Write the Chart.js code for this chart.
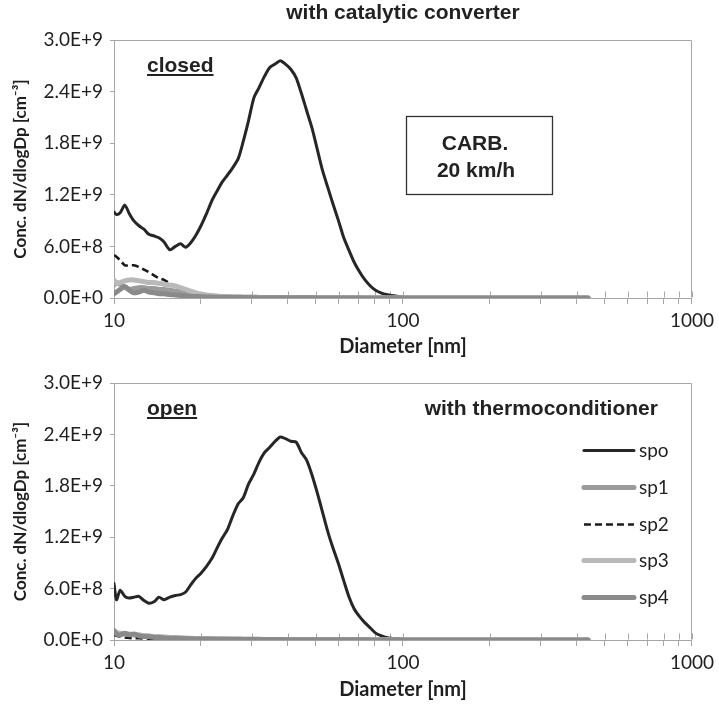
<!DOCTYPE html>
<html>
<head>
<meta charset="utf-8">
<script src="https://cdn.jsdelivr.net/npm/chart.js@4.4.0/dist/chart.umd.min.js"></script>
<style>
  html, body { margin: 0; padding: 0; background: #ffffff; }
  #wrap { position: relative; width: 719px; height: 705px; }
  #c1 { position: absolute; left: 0; top: 0; }
  #c2 { position: absolute; left: 0; top: 362px; }
</style>
</head>
<body>
<div id="wrap">
  <canvas id="c1" width="719" height="362"></canvas>
  <canvas id="c2" width="719" height="343"></canvas>
</div>
<script>
// ---------- DATA (concentrations in units of 1E+9 cm^-3) ----------
const diameterNm = [
  10.0, 10.2, 10.5, 10.9, 11.3, 11.7, 12.2, 12.7, 13.2, 13.8,
  14.3, 14.9, 15.6, 16.3, 17.0, 17.7, 18.4, 19.2, 20.0, 20.9,
  21.8, 22.7, 23.7, 24.7, 25.7, 26.9, 28.0, 29.2, 30.5, 31.8,
  33.2, 34.6, 36.1, 37.6, 39.2, 40.9, 42.7, 44.5, 46.4, 48.4,
  50.5, 52.7, 55.0, 57.3, 59.8, 62.4, 65.1, 67.9, 70.9, 73.9,
  77.1, 80.4, 83.9, 87.5, 91.2, 95.1, 99.2, 110, 130, 160,
  200, 250, 300, 360, 437
];

const seriesLabels = ['spo', 'sp1', 'sp2', 'sp3', 'sp4'];

// closed (with catalytic converter)
const closedSpo = [
  1.00, 0.97, 0.99, 1.08, 0.98, 0.90, 0.84, 0.80, 0.74, 0.72,
  0.70, 0.65, 0.56, 0.60, 0.63, 0.59, 0.64, 0.73, 0.84, 0.98,
  1.13, 1.24, 1.35, 1.43, 1.51, 1.62, 1.82, 2.06, 2.33, 2.45,
  2.58, 2.68, 2.72, 2.76, 2.72, 2.66, 2.56, 2.38, 2.18, 1.98,
  1.73, 1.48, 1.28, 1.09, 0.90, 0.70, 0.55, 0.41, 0.30, 0.21,
  0.14, 0.09, 0.06, 0.04, 0.03, 0.02, 0.01, 0.006, 0.004, 0.003,
  0.002, 0.001, 0.001, 0.0005, 0.0003
];
const closedSp1 = [
  0.15, 0.18, 0.16, 0.13, 0.10, 0.11, 0.12, 0.12, 0.11, 0.11,
  0.10, 0.10, 0.09, 0.08, 0.07, 0.06, 0.05, 0.04, 0.035, 0.03,
  0.025, 0.02, 0.018, 0.015, 0.013, 0.011, 0.01, 0.009, 0.008, 0.007,
  0.006, 0.006, 0.005, 0.005, 0.005, 0.004, 0.004, 0.004, 0.003, 0.003,
  0.003, 0.003, 0.002, 0.002, 0.002, 0.002, 0.002, 0.002, 0.002, 0.001,
  0.001, 0.001, 0.001, 0.001, 0.001, 0.001, 0.001, 0.001, 0.001, 0.001,
  0.001, 0.001, 0.001, 0.001, 0.001
];
const closedSp2 = [
  0.50, 0.48, 0.44, 0.38, 0.38, 0.38, 0.36, 0.33, 0.30, 0.26,
  0.23, 0.21, 0.17, 0.14, 0.12, 0.09, 0.08, 0.06, 0.05, 0.04,
  0.03, 0.025, 0.02, 0.018, 0.015, 0.012, 0.01, 0.009, 0.008, 0.007,
  0.006, 0.005, 0.005, 0.004, 0.004, 0.004, 0.003, 0.003, 0.003, 0.003,
  0.002, 0.002, 0.002, 0.002, 0.002, 0.002, 0.002, 0.002, 0.002, 0.002,
  0.001, 0.001, 0.001, 0.001, 0.001, 0.001, 0.001, 0.001, 0.001, 0.001,
  0.001, 0.001, 0.001, 0.001, 0.001
];
const closedSp3 = [
  0.21, 0.17, 0.18, 0.20, 0.21, 0.21, 0.20, 0.19, 0.18, 0.18,
  0.17, 0.16, 0.15, 0.14, 0.12, 0.10, 0.08, 0.06, 0.045, 0.035,
  0.025, 0.02, 0.018, 0.015, 0.013, 0.011, 0.01, 0.009, 0.008, 0.007,
  0.006, 0.006, 0.005, 0.005, 0.005, 0.004, 0.004, 0.004, 0.003, 0.003,
  0.003, 0.003, 0.002, 0.002, 0.002, 0.002, 0.002, 0.002, 0.002, 0.001,
  0.001, 0.001, 0.001, 0.001, 0.001, 0.001, 0.001, 0.001, 0.001, 0.001,
  0.001, 0.001, 0.001, 0.001, 0.001
];
const closedSp4 = [
  0.05, 0.07, 0.10, 0.13, 0.09, 0.06, 0.07, 0.09, 0.07, 0.06,
  0.05, 0.05, 0.04, 0.035, 0.03, 0.025, 0.02, 0.018, 0.015, 0.012,
  0.01, 0.009, 0.008, 0.007, 0.006, 0.006, 0.005, 0.005, 0.004, 0.004,
  0.004, 0.003, 0.003, 0.003, 0.003, 0.002, 0.002, 0.002, 0.002, 0.002,
  0.001, 0.001, 0.001, 0.001, 0.001, 0.001, 0.001, 0.001, 0.001, 0.001,
  0.001, 0.001, 0.001, 0.001, 0.001, 0.001, 0.001, 0.001, 0.001, 0.001,
  0.001, 0.001, 0.001, 0.001, 0.001
];

// open (with thermoconditioner)
const openSpo = [
  0.66, 0.47, 0.58, 0.51, 0.49, 0.50, 0.51, 0.46, 0.43, 0.45,
  0.50, 0.47, 0.50, 0.52, 0.53, 0.56, 0.64, 0.72, 0.78, 0.86,
  0.95, 1.07, 1.19, 1.29, 1.44, 1.59, 1.66, 1.82, 1.94, 2.08,
  2.19, 2.25, 2.32, 2.37, 2.35, 2.32, 2.31, 2.19, 2.10, 1.93,
  1.72, 1.49, 1.26, 1.07, 0.89, 0.69, 0.50, 0.36, 0.27, 0.20,
  0.14, 0.08, 0.05, 0.03, 0.02, 0.015, 0.01, 0.006, 0.004, 0.003,
  0.002, 0.001, 0.001, 0.0005, 0.0003
];
const openSp1 = [
  0.09, 0.08, 0.07, 0.07, 0.06, 0.06, 0.05, 0.05, 0.04, 0.035,
  0.03, 0.03, 0.025, 0.025, 0.02, 0.02, 0.018, 0.016, 0.015, 0.014,
  0.013, 0.012, 0.011, 0.01, 0.01, 0.009, 0.009, 0.008, 0.008, 0.007,
  0.007, 0.006, 0.006, 0.006, 0.005, 0.005, 0.005, 0.005, 0.004, 0.004,
  0.004, 0.004, 0.003, 0.003, 0.003, 0.003, 0.003, 0.002, 0.002, 0.002,
  0.002, 0.002, 0.002, 0.002, 0.001, 0.001, 0.001, 0.001, 0.001, 0.001,
  0.001, 0.001, 0.001, 0.001, 0.001
];
const openSp2 = [
  0.06, 0.05, 0.04, 0.03, 0.025, 0.02, 0.02, 0.018, 0.016, 0.015,
  0.014, 0.013, 0.012, 0.011, 0.01, 0.01, 0.009, 0.009, 0.008, 0.008,
  0.007, 0.007, 0.006, 0.006, 0.006, 0.005, 0.005, 0.005, 0.005, 0.004,
  0.004, 0.004, 0.004, 0.003, 0.003, 0.003, 0.003, 0.003, 0.002, 0.002,
  0.002, 0.002, 0.002, 0.002, 0.002, 0.002, 0.001, 0.001, 0.001, 0.001,
  0.001, 0.001, 0.001, 0.001, 0.001, 0.001, 0.001, 0.001, 0.001, 0.001,
  0.001, 0.001, 0.001, 0.001, 0.001
];
const openSp3 = [
  0.10, 0.09, 0.08, 0.07, 0.07, 0.06, 0.06, 0.05, 0.05, 0.04,
  0.04, 0.035, 0.03, 0.03, 0.025, 0.02, 0.02, 0.018, 0.016, 0.015,
  0.014, 0.013, 0.012, 0.011, 0.01, 0.01, 0.009, 0.009, 0.008, 0.008,
  0.007, 0.007, 0.006, 0.006, 0.006, 0.005, 0.005, 0.005, 0.005, 0.004,
  0.004, 0.004, 0.004, 0.003, 0.003, 0.003, 0.003, 0.003, 0.002, 0.002,
  0.002, 0.002, 0.002, 0.002, 0.002, 0.001, 0.001, 0.001, 0.001, 0.001,
  0.001, 0.001, 0.001, 0.001, 0.001
];
const openSp4 = [
  0.11, 0.07, 0.06, 0.08, 0.06, 0.07, 0.05, 0.04, 0.04, 0.03,
  0.03, 0.025, 0.02, 0.02, 0.018, 0.016, 0.015, 0.013, 0.012, 0.011,
  0.01, 0.01, 0.009, 0.009, 0.008, 0.008, 0.007, 0.007, 0.006, 0.006,
  0.006, 0.005, 0.005, 0.005, 0.004, 0.004, 0.004, 0.004, 0.003, 0.003,
  0.003, 0.003, 0.003, 0.002, 0.002, 0.002, 0.002, 0.002, 0.002, 0.002,
  0.001, 0.001, 0.001, 0.001, 0.001, 0.001, 0.001, 0.001, 0.001, 0.001,
  0.001, 0.001, 0.001, 0.001, 0.001
];

// ticks
const xTickValues = [10, 20, 30, 40, 50, 60, 70, 80, 90, 100, 200, 300, 400, 500, 600, 700, 800, 900, 1000];
const xTickLabels = ['10', '', '', '', '', '', '', '', '', '100', '', '', '', '', '', '', '', '', '1000'];
const yTickValues = [0, 0.6, 1.2, 1.8, 2.4, 3.0];
const yTickLabels = ['0.0E+0', '6.0E+8', '1.2E+9', '1.8E+9', '2.4E+9', '3.0E+9'];

// ---------- STYLES ----------
const seriesStyles = [
  { color: '#262626', width: 3,   dash: [],     order: 5 },
  { color: '#9b9b9b', width: 5,   dash: [],     order: 4 },
  { color: '#1a1a1a', width: 2.6, dash: [7, 4], order: 3 },
  { color: '#b9b9b9', width: 5,   dash: [],     order: 2 },
  { color: '#8a8a8a', width: 5,   dash: [],     order: 1 }
];
const AXIS_COLOR = '#a6a6a6';
const TEXT_COLOR = '#1f1f1f';
const TICK_FONT = { family: 'Lato', size: 19 };
const X_TITLE_FONT = { family: 'Lato', size: 20, weight: 'bold' };
const Y_TITLE_FONT = { family: 'Lato', size: 17, weight: 'bold' };
const ANNOT_FONT = 'bold 21px "Liberation Sans", Arial, sans-serif';

function makeDatasets(seriesArrays) {
  return seriesArrays.map((vals, i) => ({
    label: seriesLabels[i],
    data: diameterNm.map((d, k) => ({ x: d, y: vals[k] })),
    borderColor: seriesStyles[i].color,
    backgroundColor: seriesStyles[i].color,
    borderWidth: seriesStyles[i].width,
    borderDash: seriesStyles[i].dash,
    order: seriesStyles[i].order,
    pointRadius: 0,
    tension: 0.25,
    borderJoinStyle: 'round',
    borderCapStyle: seriesStyles[i].dash.length ? 'butt' : 'round',
    fill: false
  }));
}

const framePlugin = {
  id: 'frame',
  beforeDatasetsDraw(chart) {
    const { ctx, chartArea: a, scales: { x } } = chart;
    ctx.save();
    ctx.strokeStyle = AXIS_COLOR;
    ctx.lineWidth = 1;
    const L = Math.round(a.left) + 0.5, R = Math.round(a.right) - 0.5;
    const T = Math.round(a.top) + 0.5, B = Math.round(a.bottom) - 0.5;
    ctx.beginPath();
    ctx.moveTo(L, B); ctx.lineTo(L, T); ctx.lineTo(R, T); ctx.lineTo(R, B);
    // inner half of the x tick marks
    xTickValues.forEach(v => {
      const px = Math.round(x.getPixelForValue(v)) + 0.5;
      ctx.moveTo(px, B); ctx.lineTo(px, B - 6);
    });
    ctx.stroke();
    ctx.restore();
  }
};

function makeOptions(cfg) {
  return {
    responsive: false,
    animation: false,
    layout: { padding: { top: cfg.padTop, right: 22, bottom: 0, left: 0 } },
    plugins: {
      legend: { display: false },
      tooltip: { enabled: false },
      title: cfg.title ? {
        display: true, text: cfg.title, color: '#222222', fullSize: false,
        font: { family: 'Liberation Sans', size: 21, weight: 'bold' },
        padding: { top: 1, bottom: 13.8 }
      } : { display: false }
    },
    scales: {
      x: {
        type: 'logarithmic', min: 10, max: 1000,
        afterBuildTicks: s => { s.ticks = xTickValues.map(v => ({ value: v })); },
        afterFit: s => { s.height = cfg.xAxisHeight; },
        ticks: { autoSkip: false, maxRotation: 0, minRotation: 0, padding: 5, color: TEXT_COLOR, font: TICK_FONT,
                 callback: (v, i) => xTickLabels[i] },
        grid: { display: true, drawOnChartArea: false, drawTicks: true, tickLength: 6, color: AXIS_COLOR, lineWidth: 1 },
        border: { display: true, color: AXIS_COLOR, width: 1 },
        title: { display: true, text: 'Diameter [nm]', color: TEXT_COLOR, font: X_TITLE_FONT, padding: { top: 0, bottom: 3 } }
      },
      y: {
        min: 0, max: 3,
        afterBuildTicks: s => { s.ticks = yTickValues.map(v => ({ value: v })); },
        afterFit: s => { s.width = 114; },
        ticks: { padding: 7, color: TEXT_COLOR, font: TICK_FONT, callback: (v, i) => yTickLabels[i] },
        grid: { display: true, drawOnChartArea: false, drawTicks: true, tickLength: 4, color: AXIS_COLOR, lineWidth: 1 },
        border: { display: true, color: AXIS_COLOR, width: 1 },
        title: { display: true, text: 'Conc. dN/dlogDp [cm\u207B\u00B3]', color: TEXT_COLOR, font: Y_TITLE_FONT, padding: { top: 10, bottom: 0 } }
      }
    }
  };
}

function underlinedText(ctx, text, x, y) {
  ctx.fillText(text, x, y);
  const w = ctx.measureText(text).width;
  ctx.fillRect(x, y + 2, w, 2);
}

const closedAnnot = {
  id: 'closedAnnot',
  afterDraw(chart) {
    const { ctx, chartArea: a } = chart;
    ctx.save();
    ctx.fillStyle = '#222222';
    ctx.font = ANNOT_FONT;
    ctx.textAlign = 'left'; ctx.textBaseline = 'alphabetic';
    underlinedText(ctx, 'closed', a.left + 33, a.top + 32);
    // CARB box
    ctx.strokeStyle = '#333333'; ctx.lineWidth = 1.3;
    ctx.strokeRect(a.left + 292.5, a.top + 76.5, 146, 78);
    ctx.textAlign = 'center'; ctx.textBaseline = 'middle';
    ctx.fillText('CARB.', a.left + 361, a.top + 104);
    ctx.fillText('20 km/h', a.left + 362, a.top + 131);
    ctx.restore();
  }
};

const openAnnot = {
  id: 'openAnnot',
  afterDraw(chart) {
    const { ctx, chartArea: a } = chart;
    ctx.save();
    ctx.fillStyle = '#222222';
    ctx.font = ANNOT_FONT;
    ctx.textAlign = 'left'; ctx.textBaseline = 'alphabetic';
    underlinedText(ctx, 'open', a.left + 33, a.top + 32);
    ctx.textAlign = 'right';
    ctx.fillText('with thermoconditioner', a.right - 34, a.top + 32);
    // legend inside the plot area
    chart.data.datasets.forEach((ds, i) => {
      const y = Math.round(a.top + 67 + i * 36.8) + 0.5;
      ctx.strokeStyle = ds.borderColor;
      ctx.lineWidth = ds.borderWidth;
      ctx.setLineDash(ds.borderDash || []);
      ctx.lineCap = (ds.borderDash && ds.borderDash.length) ? 'butt' : 'round';
      ctx.beginPath();
      ctx.moveTo(a.right - 108, y); ctx.lineTo(a.right - 58, y);
      ctx.stroke();
      ctx.setLineDash([]);
      ctx.fillStyle = TEXT_COLOR;
      ctx.font = '19px Lato';
      ctx.textAlign = 'left'; ctx.textBaseline = 'middle';
      ctx.fillText(ds.label, a.right - 53, y);
    });
    ctx.restore();
  }
};

new Chart(document.getElementById('c1'), {
  type: 'line',
  data: { datasets: makeDatasets([closedSpo, closedSp1, closedSp2, closedSp3, closedSp4]) },
  options: makeOptions({ padTop: 0, xAxisHeight: 64, title: 'with catalytic converter' }),
  plugins: [framePlugin, closedAnnot]
});

new Chart(document.getElementById('c2'), {
  type: 'line',
  data: { datasets: makeDatasets([openSpo, openSp1, openSp2, openSp3, openSp4]) },
  options: makeOptions({ padTop: 21, xAxisHeight: 65, title: null }),
  plugins: [framePlugin, openAnnot]
});
</script>
</body>
</html>
